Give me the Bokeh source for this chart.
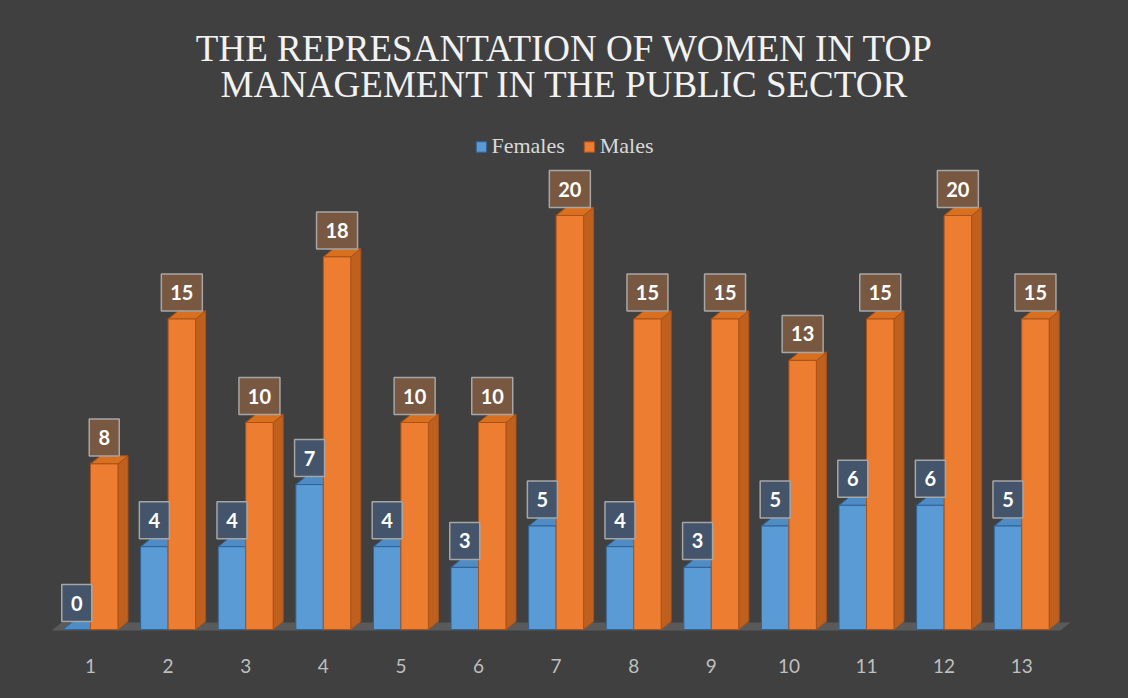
from bokeh.plotting import figure
from bokeh.models import (ColumnDataSource, Legend, LegendItem, Label, FixedTicker)
from bokeh.core.properties import value
from bokeh.embed import file_html
from bokeh.resources import INLINE

# ---- data ----
categories = [1, 2, 3, 4, 5, 6, 7, 8, 9, 10, 11, 12, 13]
tick_labels = ["1", "2", "3", "4", "5", "6", "7", "8", "9", "10", "11", "12", "13"]
females = [0, 4, 4, 7, 4, 3, 5, 4, 3, 5, 6, 6, 5]
males = [8, 15, 10, 18, 10, 10, 20, 15, 15, 13, 15, 20, 15]
title_lines = ["THE REPRESANTATION OF WOMEN IN TOP", "MANAGEMENT IN THE PUBLIC SECTOR"]

# ---- style / geometry ----
BG = "#404040"
BAR_W = 0.354       # width of each bar's front face (category units)
DX = 0.129          # 3D depth in x (category units)
DY = 0.39           # 3D depth in y (value units)
FRAME_H = 640       # frame height in px (frame starts at top of canvas)
ZERO_PX = 629       # pixel row of value 0 (from top)
PX_PER_UNIT = 20.7  # vertical pixels per value unit
BOX_H = 37          # label box height, px
BOX_GAP = 8         # gap between bar top and label box, px
TITLE_ROWS_PX = [48, 84]  # centre rows of the two title lines

F_FRONT, F_SIDE, F_TOP, F_EDGE = "#5b9bd5", "#41719c", "#4f8bc4", "#2f6396"
M_FRONT, M_SIDE, M_TOP, M_EDGE = "#ed7d31", "#c0601f", "#d8701f", "#a9521a"

y_top = ZERO_PX / PX_PER_UNIT
y_bot = -(FRAME_H - ZERO_PX) / PX_PER_UNIT
x_lo, x_hi = -0.1598, 14.376

p = figure(width=1128, height=698, x_range=(x_lo, x_hi), y_range=(y_bot, y_top),
           title=None, y_axis_location=None, output_backend="svg", toolbar_location=None,
           min_border_left=0, min_border_right=0, min_border_top=0, min_border_bottom=58,
           background_fill_color=BG, border_fill_color=BG)
p.outline_line_color = None
p.outline_line_alpha = 0
p.styles = {"background-color": BG}
p.grid.visible = False


def faces(cats, vals, left_off):
    xs_side, ys_side, xs_top, ys_top, xc = [], [], [], [], []
    for c, v in zip(cats, vals):
        x0 = c + left_off
        x1 = x0 + BAR_W
        xs_side.append([x1, x1 + DX, x1 + DX, x1])
        ys_side.append([0, DY, v + DY, v])
        xs_top.append([x0, x1, x1 + DX, x0 + DX])
        ys_top.append([v, v, v + DY, v + DY])
        xc.append(x0 + BAR_W / 2)
    return xs_side, ys_side, xs_top, ys_top, xc


# floor
fx0 = categories[0] - 0.5
fx1 = categories[-1] + 0.5
p.patch([fx0, fx1, fx1 + DX, fx0 + DX], [-0.05, -0.05, DY - 0.05, DY - 0.05],
        fill_color="#5a5a5a", line_color=None)

fs_x, fs_y, ft_x, ft_y, f_xc = faces(categories, females, -BAR_W)
ms_x, ms_y, mt_x, mt_y, m_xc = faces(categories, males, 0.0)

box_off = (BOX_GAP + BOX_H / 2) / PX_PER_UNIT


def label_src(xc, vals):
    labs = [str(v) for v in vals]
    return ColumnDataSource(dict(x=xc, top=vals, lab=labs,
                                 by=[v + box_off for v in vals],
                                 bw=[19 + 11 * len(s) for s in labs]))


# females
p.patches(fs_x, fs_y, fill_color=F_SIDE, line_color=F_EDGE, line_width=1)
p.patches(ft_x, ft_y, fill_color=F_TOP, line_color=F_EDGE, line_width=1)
fsrc = label_src(f_xc, females)
f_front = p.vbar(x="x", top="top", bottom=0, width=BAR_W, source=fsrc,
                 fill_color=F_FRONT, line_color=F_EDGE, line_width=1)

# males
p.patches(ms_x, ms_y, fill_color=M_SIDE, line_color=M_EDGE, line_width=1)
p.patches(mt_x, mt_y, fill_color=M_TOP, line_color=M_EDGE, line_width=1)
msrc = label_src(m_xc, males)
m_front = p.vbar(x="x", top="top", bottom=0, width=BAR_W, source=msrc,
                 fill_color=M_FRONT, line_color=M_EDGE, line_width=1)

# data labels (boxed)
for src, fill in ((fsrc, "#44546a"), (msrc, "#785841")):
    p.rect(x="x", y="by", width="bw", height=BOX_H, width_units="screen",
           height_units="screen", source=src, fill_color=fill,
           line_color="#a6a6a6", line_width=1.5)
    p.text(x="x", y="by", text="lab", source=src, text_align="center",
           text_baseline="middle", text_color="white", text_font=value("Lato"),
           text_font_style="bold", text_font_size="20px")

# x axis
ax = p.xaxis[0]
ax.ticker = FixedTicker(ticks=categories)
ax.major_label_overrides = {c: t for c, t in zip(categories, tick_labels)}
ax.axis_line_color = None
ax.major_tick_line_color = None
ax.minor_tick_line_color = None
ax.major_label_standoff = 12
ax.major_label_text_font = "Lato"
ax.major_label_text_font_size = "19px"
ax.major_label_text_color = "#bfbfbf"

# legend (near the top of the frame, under the title)
legend = Legend(items=[LegendItem(label="Females", renderers=[f_front]),
                       LegendItem(label="Males", renderers=[m_front])],
                orientation="horizontal", location="top_center",
                background_fill_alpha=0, border_line_color=None,
                label_text_font="Liberation Serif", label_text_font_size="22px",
                label_text_color="#d9d9d9", glyph_width=13, glyph_height=13,
                spacing=18, padding=2, margin=133, label_standoff=4)
p.add_layout(legend, "center")

# title: two centred lines
x_mid = (x_lo + x_hi) / 2
for line, row in zip(title_lines, TITLE_ROWS_PX):
    p.add_layout(Label(x=x_mid, y=(ZERO_PX - row) / PX_PER_UNIT, text=line,
                       text_align="center", text_baseline="middle",
                       text_font="Liberation Serif", text_font_size="37px",
                       text_color="#f2f2f2"))

open("out.html", "w").write(file_html(p, INLINE))
